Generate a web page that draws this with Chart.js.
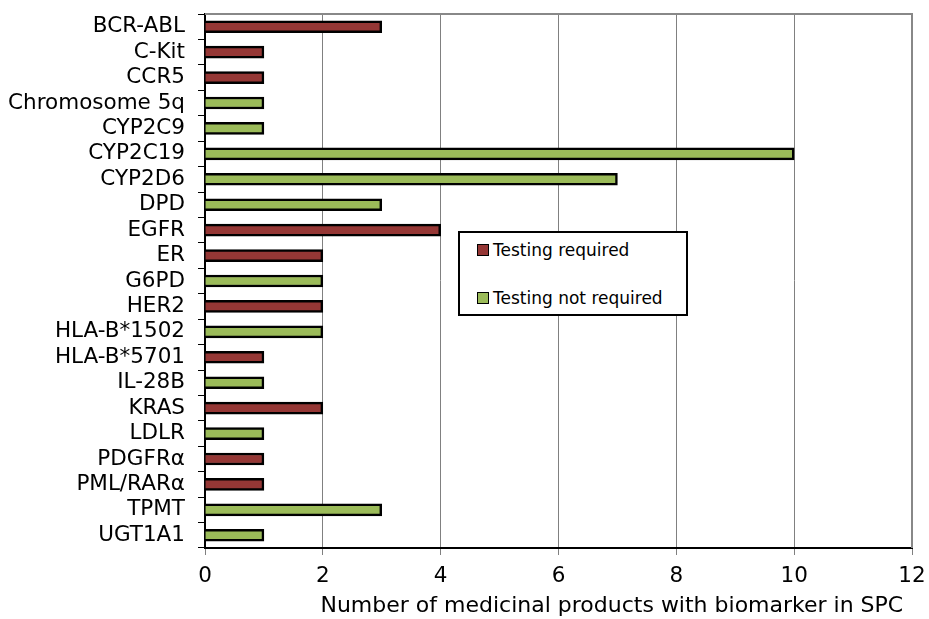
<!DOCTYPE html>
<html>
<head>
<meta charset="utf-8">
<script src="https://cdn.jsdelivr.net/npm/chart.js@4"></script>
<style>
  body { margin: 0; background: #fff; }
  #wrap { position: relative; width: 929px; height: 619px; }
  #legendBox {
    position: absolute; left: 458px; top: 231px; width: 226px; height: 81px;
    border: 2px solid #000; background: #fff;
    font-family: "DejaVu Sans", Verdana, sans-serif; font-size: 17px; color: #000;
  }
  .item { position: absolute; left: 17px; height: 20px; line-height: 20px; white-space: nowrap; }
  .sw { display: inline-block; width: 10px; height: 10px; border: 1px solid #000; margin-right: 4px; vertical-align: 0px; }
</style>
</head>
<body>
<div id="wrap">
  <canvas id="chart" width="929" height="619"></canvas>
  <div id="legendBox">
    <div class="item" style="top:7px"><span class="sw" style="background:#953735"></span>Testing required</div>
    <div class="item" style="top:55px"><span class="sw" style="background:#9BBB59"></span>Testing not required</div>
  </div>
</div>
<script>
var categories = ['BCR-ABL', 'C-Kit', 'CCR5', 'Chromosome 5q', 'CYP2C9', 'CYP2C19', 'CYP2D6', 'DPD',
    'EGFR', 'ER', 'G6PD', 'HER2', 'HLA-B*1502', 'HLA-B*5701', 'IL-28B', 'KRAS', 'LDLR',
    'PDGFR\u03b1', 'PML/RAR\u03b1', 'TPMT', 'UGT1A1'];
// one value per category, null where the biomarker is in the other group
var testingRequired = [3, 1, 1, null, null, null, null, null, 4, 2, null, 2, null, 1, null, 2, null, 1, 1, null, null];
var testingNotRequired = [null, null, null, 1, 1, 10, 7, 3, null, null, 2, null, 2, null, 1, null, 1, null, null, 3, 1];
var xTicks = [0, 2, 4, 6, 8, 10, 12];

var FONT = '"DejaVu Sans", Verdana, sans-serif';

// grey frame on top and right of the plot
var framePlugin = {
    id: 'frame',
    beforeDatasetsDraw: function(chart) {
        var a = chart.chartArea, ctx = chart.ctx;
        ctx.save();
        ctx.strokeStyle = '#888888';
        ctx.lineWidth = 2;
        ctx.beginPath();
        ctx.moveTo(a.left, a.top);
        ctx.lineTo(a.right, a.top);
        ctx.lineTo(a.right, a.bottom);
        ctx.stroke();
        ctx.restore();
    }
};

var ctx = document.getElementById('chart').getContext('2d');
new Chart(ctx, {
    type: 'bar',
    data: {
        labels: categories,
        datasets: [{
            label: 'Testing required',
            data: testingRequired,
            backgroundColor: '#953735',
            borderColor: '#000000',
            borderWidth: 2.5,
            barThickness: 12
        }, {
            label: 'Testing not required',
            data: testingNotRequired,
            backgroundColor: '#9BBB59',
            borderColor: '#000000',
            borderWidth: 2.5,
            barThickness: 12
        }]
    },
    options: {
        indexAxis: 'y',
        responsive: false,
        animation: false,
        layout: { padding: { left: 0, top: 14, right: 17, bottom: 0 } },
        plugins: {
            legend: { display: false },
            tooltip: { enabled: false }
        },
        scales: {
            x: {
                stacked: true,
                min: 0,
                max: 12,
                afterBuildTicks: function(scale) {
                    scale.ticks = xTicks.map(function(v) { return { value: v }; });
                },
                grid: {
                    color: '#808080',
                    lineWidth: 1,
                    tickLength: 7,
                    tickColor: '#808080'
                },
                border: { color: '#000000', width: 2 },
                ticks: {
                    color: '#000000',
                    font: { family: FONT, size: 21.5 },
                    padding: 9
                },
                title: {
                    display: true,
                    text: 'Number of medicinal products with biomarker in SPC\u2009\u2009',
                    align: 'end',
                    color: '#000000',
                    font: { family: FONT, size: 22 },
                    padding: { top: 0, bottom: 0 }
                },
                afterFit: function(scale) {
                    scale.height = 71;
                    scale.paddingLeft = 0;
                    scale.paddingRight = 0;
                }
            },
            y: {
                stacked: true,
                grid: {
                    offset: true,
                    drawOnChartArea: false,
                    tickLength: 7,
                    tickColor: '#000000'
                },
                border: { color: '#000000', width: 2 },
                ticks: {
                    color: '#000000',
                    font: { family: FONT, size: 21.5 },
                    padding: 13,
                    autoSkip: false
                },
                afterFit: function(scale) {
                    scale.width = 205;
                    scale.paddingTop = 0;
                    scale.paddingBottom = 0;
                }
            }
        }
    },
    plugins: [framePlugin]
});
</script>
</body>
</html>
